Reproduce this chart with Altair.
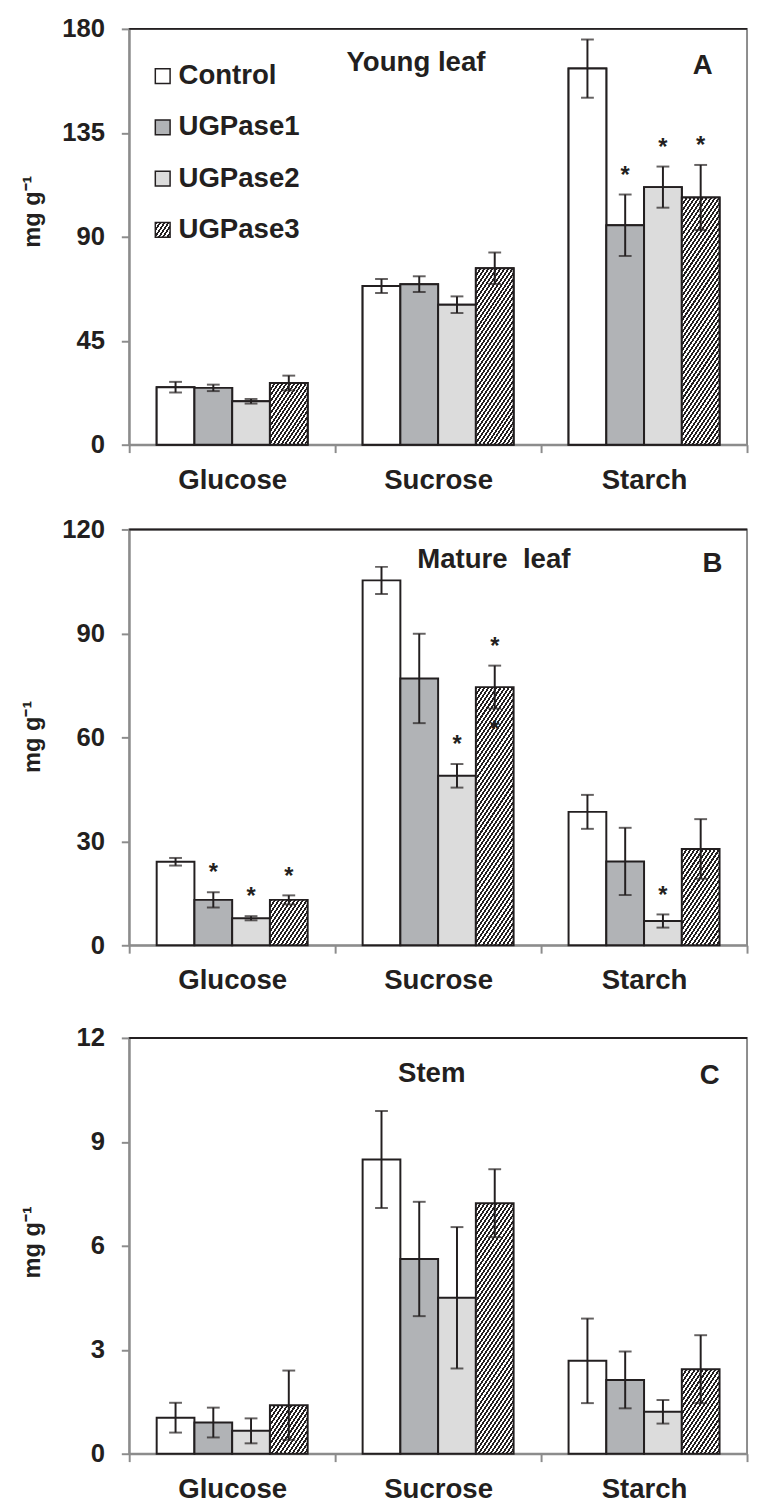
import altair as alt
import json

# ---------------- data ----------------
categories = ["Glucose", "Sucrose", "Starch"]
groups = ["Control", "UGPase1", "UGPase2", "UGPase3"]

# rows: Glucose, Sucrose, Starch ; columns: Control, UGPase1, UGPase2, UGPase3
young_mean = [[24.9, 24.6, 18.8, 26.7], [68.7, 69.5, 60.6, 76.4], [162.8, 95.0, 111.5, 107.0]]
young_err = [[2.3, 1.4, 1.0, 3.2], [3.0, 3.4, 3.6, 6.8], [12.6, 13.3, 8.9, 14.1]]
mature_mean = [[24.1, 13.1, 7.8, 13.1], [105.3, 77.0, 48.9, 74.5], [38.5, 24.2, 7.0, 27.8]]
mature_err = [[1.1, 2.2, 0.6, 1.3], [3.9, 12.9, 3.4, 6.2], [4.9, 9.7, 1.9, 8.6]]
stem_mean = [[1.04, 0.90, 0.66, 1.40], [8.49, 5.62, 4.50, 7.23], [2.68, 2.13, 1.21, 2.44]]
stem_err = [[0.43, 0.43, 0.36, 1.00], [1.40, 1.65, 2.04, 0.98], [1.22, 0.82, 0.34, 0.98]]

young_ticks = [0, 45, 90, 135, 180]
mature_ticks = [0, 30, 60, 90, 120]
stem_ticks = [0, 3, 6, 9, 12]

young_stars = [("Starch", "UGPase1"), ("Starch", "UGPase2"), ("Starch", "UGPase3")]
mature_stars = [("Glucose", "UGPase1"), ("Glucose", "UGPase2"), ("Glucose", "UGPase3"),
                ("Sucrose", "UGPase2"), ("Sucrose", "UGPase3"), ("Starch", "UGPase2")]
mature_stars_below = [("Sucrose", "UGPase3")]
stem_stars = []

# ---------------- style ----------------
INK = "#231f20"
GREY = "#8c8c8c"
FONT = "Liberation Sans"
W, H = 627, 422
STEP_X = W / 3
P_OFF = 0.728
BAR_W = STEP_X / (4 + 2 * P_OFF)
SOLID = {"Control": "#ffffff", "UGPase1": "#b1b3b6", "UGPase2": "#dcdcdc"}
YTITLE = "mg g\u207b\u00b9"


def hatch(w, h, k=1.5, period=3.4, frac=0.5):
    s = (1 + k * k) ** 0.5
    span = (k * w + h) / s
    n = max(1, int(round(span / period)))
    lam = (k * w + h) / (k * k * w * w + h * h)
    stops = []
    for i in range(n):
        a = round(i / n, 5)
        b = round((i + frac) / n, 5)
        c = round((i + 1) / n, 5)
        stops += [{"offset": a, "color": INK}, {"offset": b, "color": INK},
                  {"offset": b, "color": "#ffffff"}, {"offset": c, "color": "#ffffff"}]
    return {"gradient": "linear", "x1": 0, "y1": 0,
            "x2": round(lam * k * w, 6), "y2": round(lam * h, 6), "stops": stops}


def make_rows(means, errs, ymax):
    rows = []
    for ci, c in enumerate(categories):
        for gi, g in enumerate(groups):
            m = means[ci][gi]
            e = errs[ci][gi]
            f = hatch(BAR_W, m / ymax * H) if g == "UGPase3" else SOLID[g]
            rows.append({"cat": c, "group": g, "mean": m, "lo": m - e, "hi": m + e, "fillval": f})
    return rows


def star_rows(rows, stars):
    out = []
    for c, g in stars:
        for r in rows:
            if r["cat"] == c and r["group"] == g:
                out.append({"cat": c, "group": g, "hi": r["hi"], "lo": r["lo"], "s": "*"})
    return out


def panel(means, errs, ymax, ticks, stars, stars_below, title, tx, ty, letter, lx, ly, ytitle_y, legend=False):
    rows = make_rows(means, errs, ymax)
    data = alt.InlineData(values=rows)
    xs = alt.Scale(domain=categories, paddingInner=0, paddingOuter=0)
    xos = alt.Scale(domain=groups, paddingInner=0, paddingOuter=P_OFF)
    ys = alt.Scale(domain=[0, ymax], nice=False, zero=True)
    xaxis = alt.Axis(labelAngle=0, tickBand="extent", labelPadding=14, tickSize=8)
    yaxis = alt.Axis(values=ticks, titleY=ytitle_y, titleX=-91, titleBaseline="alphabetic",
                     titleAlign="center")

    def X():
        return alt.X("cat:N", sort=categories, scale=xs, title=None, axis=xaxis)

    def Y(field):
        return alt.Y(field, scale=ys, title=YTITLE, axis=yaxis)

    xo = alt.XOffset("group:N", sort=groups, scale=xos)

    layers = []
    if legend:
        leg_grad = hatch(15, 15)
        leg = alt.Chart(data).mark_bar(stroke=INK, strokeWidth=2).encode(
            x=X(), xOffset=xo, y=Y("mean:Q"),
            fill=alt.Fill("group:N", sort=groups,
                          scale=alt.Scale(domain=groups,
                                          range=["#ffffff", "#b1b3b6", "#dcdcdc",
                                                 alt.ExprRef(expr=json.dumps(leg_grad))]),
                          legend=alt.Legend(orient="none", legendX=20, legendY=34, title=None,
                                            symbolType="square", symbolSize=225,
                                            symbolStrokeColor=INK, symbolStrokeWidth=1.5,
                                            labelFont=FONT, labelFontSize=28, labelFontWeight="bold",
                                            labelColor=INK, labelOffset=2, rowPadding=24,
                                            padding=0, labelLimit=400, symbolOpacity=1)))
        layers.append(leg)

    bars = alt.Chart(data).mark_bar(stroke=INK, strokeWidth=2).encode(
        x=X(), xOffset=xo, y=Y("mean:Q"), fill=alt.Fill("fillval:N", scale=None))
    layers.append(bars)

    err = alt.Chart(data).mark_rule(color=INK, strokeWidth=2).encode(
        x=X(), xOffset=xo, y=Y("lo:Q"), y2="hi:Q")
    cap_hi = alt.Chart(data).mark_tick(color=INK, thickness=2, size=13).encode(
        x=X(), xOffset=xo, y=Y("hi:Q"))
    cap_lo = alt.Chart(data).mark_tick(color=INK, thickness=2, size=13).encode(
        x=X(), xOffset=xo, y=Y("lo:Q"))
    layers += [err, cap_hi, cap_lo]

    if stars:
        st = alt.Chart(alt.InlineData(values=star_rows(rows, stars))).mark_text(
            font=FONT, fontSize=24, fontWeight="bold", color=INK, baseline="middle", dy=-19).encode(
            x=X(), xOffset=xo, y=Y("hi:Q"), text="s:N")
        layers.append(st)
    if stars_below:
        sb = alt.Chart(alt.InlineData(values=star_rows(rows, stars_below))).mark_text(
            font=FONT, fontSize=24, fontWeight="bold", color=INK, baseline="middle", dy=22).encode(
            x=X(), xOffset=xo, y=Y("lo:Q"), text="s:N")
        layers.append(sb)

    t1 = alt.Chart(alt.InlineData(values=[{"t": title}])).mark_text(
        font=FONT, fontSize=28, fontWeight="bold", color=INK, align="center", baseline="alphabetic").encode(
        x=alt.value(tx), y=alt.value(ty), text="t:N")
    t2 = alt.Chart(alt.InlineData(values=[{"t": letter}])).mark_text(
        font=FONT, fontSize=28, fontWeight="bold", color=INK, align="center", baseline="alphabetic").encode(
        x=alt.value(lx), y=alt.value(ly), text="t:N")
    top = alt.Chart(alt.InlineData(values=[{"v": ymax}])).mark_rule(color=INK, strokeWidth=2).encode(
        y=Y("v:Q"))
    layers += [t1, t2, top]
    return alt.layer(*layers).properties(width=W, height=H)


pA = panel(young_mean, young_err, 180, young_ticks, young_stars, [], "Young leaf", 291, 43, "A", 582, 46, 185,
           legend=True)
pB = panel(mature_mean, mature_err, 120, mature_ticks, mature_stars, mature_stars_below,
           "Mature\u00a0 leaf", 370, 39, "B", 592, 43, 210)
pC = panel(stem_mean, stem_err, 12, stem_ticks, stem_stars, [], "Stem", 307, 45, "C", 589, 47, 207)

chart = alt.vconcat(pA, alt.vconcat(pB, pC, spacing=29), spacing=21).properties(
    padding={"left": 12, "top": -4, "right": 0, "bottom": 0}
).configure_view(stroke=GREY, strokeWidth=2).configure_axisY(
    domainColor=GREY, domainWidth=2, tickColor=GREY, tickWidth=2, tickSize=8, grid=False,
    labelFont=FONT, labelFontSize=26, labelFontWeight="bold", labelColor=INK, labelPadding=17,
    titleFont=FONT, titleFontSize=24, titleFontWeight="bold", titleColor=INK
).configure_axisX(
    domainColor=GREY, domainWidth=2, tickColor=GREY, tickWidth=2, grid=False,
    labelFont=FONT, labelFontSize=28, labelFontWeight="bold", labelColor=INK
)

chart.save("out.html", embed_options={"renderer": "svg", "actions": False})
